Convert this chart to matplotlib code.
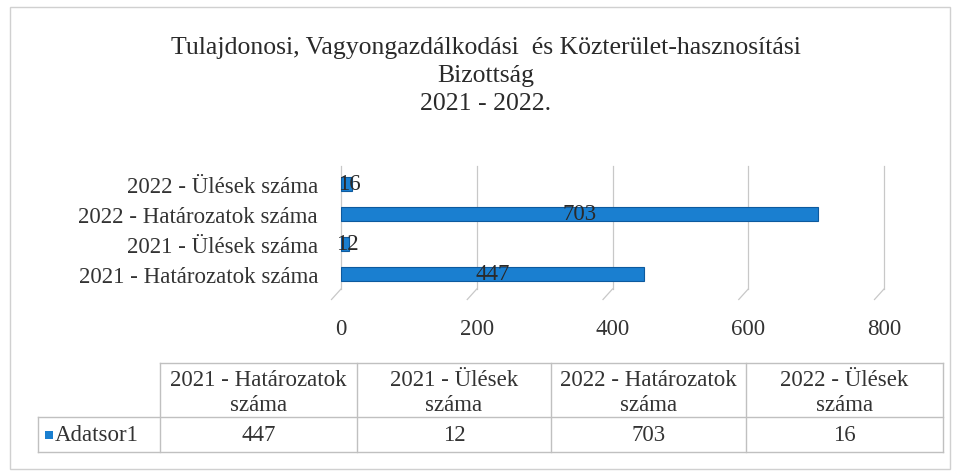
import matplotlib
matplotlib.use("Agg")
import matplotlib.pyplot as plt
from matplotlib.lines import Line2D
from matplotlib.patches import Rectangle

categories = ["2021 - Határozatok száma", "2021 - Ülések száma",
              "2022 - Határozatok száma", "2022 - Ülések száma"]
header_labels = ["2021 - Határozatok\nszáma", "2021 - Ülések\nszáma",
                 "2022 - Határozatok\nszáma", "2022 - Ülések\nszáma"]
values = [447, 12, 703, 16]
series_name = "Adatsor1"
xticks = [0, 200, 400, 600, 800]
title = "Tulajdonosi, Vagyongazdálkodási  és Közterület-hasznosítási\nBizottság\n2021 - 2022."

FONT = "Liberation Serif"
BAR = "#1a7fd0"
TXT = "#333333"
GRID = "#c8c8c8"
FS = 16.5

W, H = 960, 477
fig = plt.figure(figsize=(W / 100, H / 100), dpi=100)
fig.patch.set_facecolor("white")

# outer frame
fig.add_artist(Rectangle((10 / W, 1 - 470 / H), 940 / W, 462 / H, transform=fig.transFigure,
                         fill=False, edgecolor="#d0d0d0", lw=1.0))

fig.text(486 / W, 1 - 76 / H, title, ha="center", va="center", fontsize=18.5,
         family=FONT, color="#2a2a2a", linespacing=1.38)

ax = fig.add_axes([341 / W, 1 - 290 / H, (884 - 341) / W, (290 - 167) / H])
y = list(range(len(categories)))
bars = ax.barh(y, values, height=0.48, color=BAR, edgecolor="#0d5a9e", lw=0.8, zorder=3)
ax.set_xlim(0, 800)
ax.set_ylim(-0.5, 3.6)
ax.set_xticks(xticks)
ax.set_xticklabels([str(t) for t in xticks], family=FONT, fontsize=FS, color=TXT)
ax.set_yticks(y)
ax.set_yticklabels(categories, family=FONT, fontsize=FS, color=TXT)
ax.tick_params(axis="x", length=0, pad=21)
ax.tick_params(axis="y", length=0, pad=16.5)
for s in ax.spines.values():
    s.set_visible(False)
ax.grid(axis="x", color=GRID, lw=0.9, zorder=0)
for gl in ax.get_xgridlines():
    gl.set_clip_on(False)
ax.set_facecolor("none")
# perspective floor ticks
for t in xticks:
    ax.add_line(Line2D([t, t - 14], [-0.5, -0.85], color=GRID, lw=0.9, clip_on=False))
for yi, v in zip(y, values):
    ax.text(v / 2 + (4 if v < 50 else 0), yi, str(v), ha="center", va="center",
            family=FONT, fontsize=FS, color="#2a2a2a", zorder=4)

# data table
col_x = [38, 160, 357, 551, 746, 943]
row_y = [364, 418, 453]
tcol = "#c0c0c0"
for xx in col_x[1:]:
    fig.add_artist(Line2D([xx / W, xx / W], [1 - row_y[0] / H, 1 - row_y[2] / H],
                          transform=fig.transFigure, color=tcol, lw=1.0))
fig.add_artist(Line2D([col_x[0] / W, col_x[0] / W], [1 - row_y[1] / H, 1 - row_y[2] / H],
                      transform=fig.transFigure, color=tcol, lw=1.0))
fig.add_artist(Line2D([col_x[1] / W, col_x[-1] / W], [1 - row_y[0] / H, 1 - row_y[0] / H],
                      transform=fig.transFigure, color=tcol, lw=1.0))
for ry in row_y[1:]:
    fig.add_artist(Line2D([col_x[0] / W, col_x[-1] / W], [1 - ry / H, 1 - ry / H],
                          transform=fig.transFigure, color=tcol, lw=1.0))
for i, lab in enumerate(header_labels):
    cx = (col_x[i + 1] + col_x[i + 2]) / 2
    fig.text(cx / W, 1 - 393 / H, lab, ha="center", va="center", family=FONT,
             fontsize=FS, color=TXT, linespacing=1.3)
for i, v in enumerate(values):
    cx = (col_x[i + 1] + col_x[i + 2]) / 2
    fig.text(cx / W, 1 - 436 / H, str(v), ha="center", va="center", family=FONT,
             fontsize=FS, color=TXT)
fig.add_artist(Rectangle((45 / W, 1 - 440 / H), 8 / W, 8 / H, transform=fig.transFigure,
                         facecolor=BAR, edgecolor="none"))
fig.text(55 / W, 1 - 436 / H, series_name, ha="left", va="center", family=FONT,
         fontsize=FS, color=TXT)

fig.savefig("out.png", dpi=100)
